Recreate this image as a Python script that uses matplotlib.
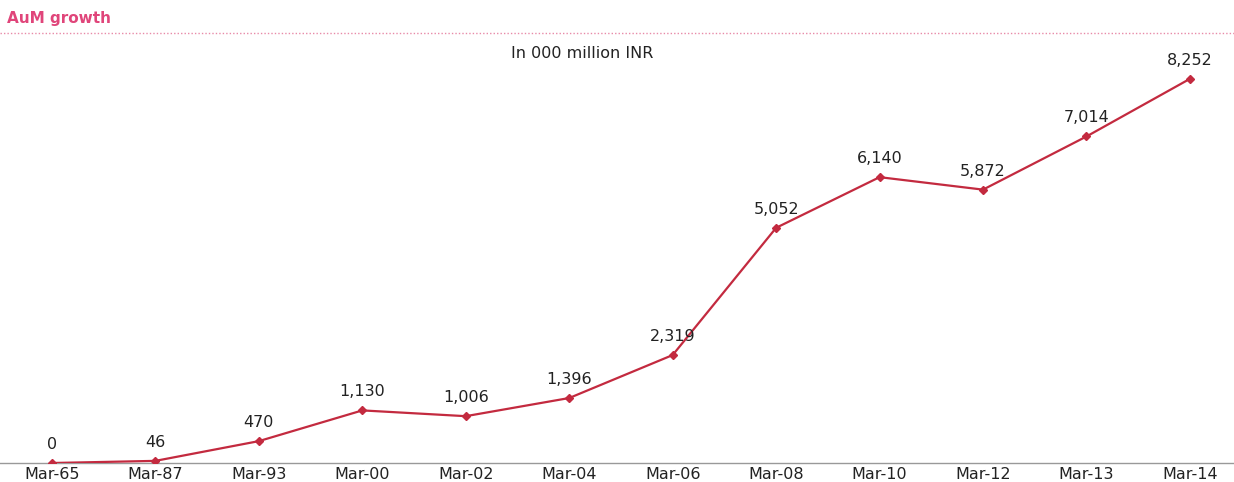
import matplotlib.pyplot as plt
from matplotlib.lines import Line2D

periods = ['Mar-65', 'Mar-87', 'Mar-93', 'Mar-00', 'Mar-02', 'Mar-04',
           'Mar-06', 'Mar-08', 'Mar-10', 'Mar-12', 'Mar-13', 'Mar-14']
aum = [0, 46, 470, 1130, 1006, 1396, 2319, 5052, 6140, 5872, 7014, 8252]

plt.rcParams['font.family'] = ['DejaVu Sans']

fig = plt.figure(figsize=(12.34, 4.82), dpi=100)
ax = fig.add_axes([0.0002, 0.0394, 1.006, 0.8693])

x = list(range(len(periods)))
ax.plot(x, aum, color='#c32a3f', lw=1.6, marker='D', ms=4.5, zorder=3)

# value labels above the points
for xi, v in zip(x, aum):
    ax.annotate(f'{v:,}', (xi, v), xytext=(0, 8), textcoords='offset points',
                ha='center', va='bottom', fontsize=11.5, color='#222222')

ax.set_xlim(-0.5, 11.5)
ax.set_ylim(0, 9000)
ax.set_xticks(x)
ax.set_xticklabels(periods, fontsize=11.5, color='#222222')
ax.tick_params(axis='x', length=0, pad=3)
ax.set_yticks([])
for s in ['top', 'right', 'left']:
    ax.spines[s].set_visible(False)
ax.spines['bottom'].set_color('#999999')
ax.spines['bottom'].set_linewidth(1)

# header
fig.text(0.006, 0.962, 'AuM growth', fontsize=11, color='#e0457a',
         fontweight='bold', ha='left', va='center')
fig.add_artist(Line2D([0, 1], [0.931, 0.931], transform=fig.transFigure,
                      color='#e88aa8', lw=1, ls=(0, (1, 1.5))))
fig.text(0.472, 0.888, 'In 000 million INR', fontsize=11.5, color='#222222',
         ha='center', va='center')

fig.savefig('out.png', dpi=100)
